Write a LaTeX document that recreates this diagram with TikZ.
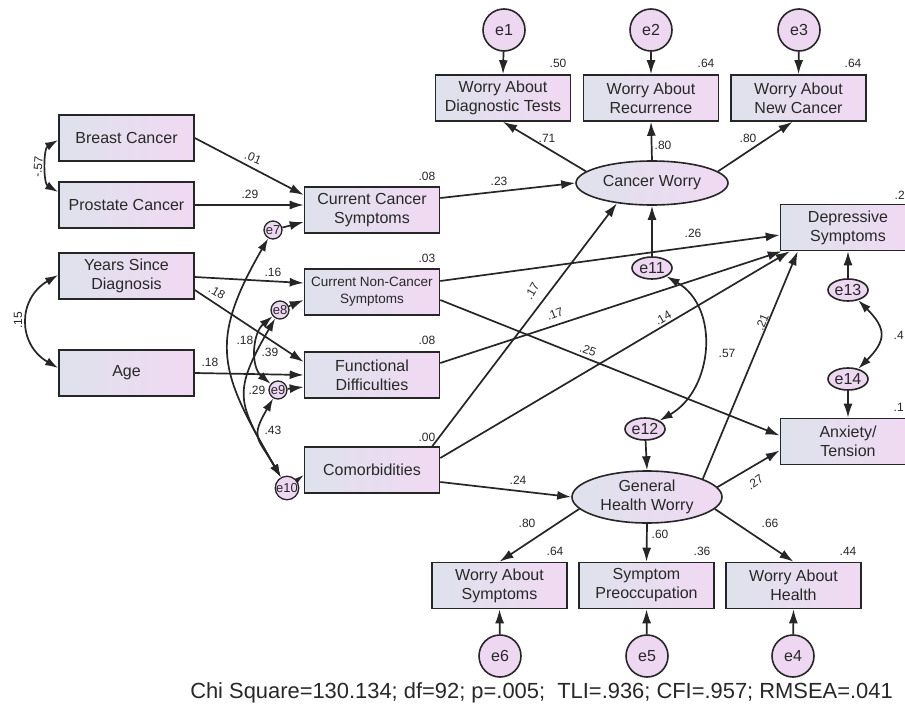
\documentclass[tikz,border=0pt]{standalone}
\usepackage{fontspec}
\setmainfont{Liberation Sans}
\usetikzlibrary{shapes.geometric,arrows.meta}
\definecolor{gL}{RGB}{222,226,236}
\definecolor{gR}{RGB}{241,217,243}
\definecolor{circ}{RGB}{237,215,241}
\definecolor{ln}{RGB}{38,38,38}
\definecolor{txt}{RGB}{40,40,40}
\pgfdeclarelayer{bg}
\pgfdeclarelayer{conn}
\pgfsetlayers{bg,conn,main}
\tikzset{
  obs/.style={draw=ln, line width=1.6pt, left color=gL, right color=gR, minimum width=135pt, minimum height=46pt, inner sep=0pt, align=center, font=\fontsize{16}{19}\selectfont, text=txt},
  lat/.style={ellipse, draw=ln, line width=1.6pt, left color=gL, right color=gR, inner sep=0pt, align=center, font=\fontsize{16}{19}\selectfont, text=txt},
  err/.style={circle, draw=ln, line width=1.6pt, fill=circ, minimum size=42pt, inner sep=0pt, font=\fontsize{16}{19}\selectfont, text=txt},
  errs/.style={circle, draw=ln, line width=1.3pt, fill=circ, minimum size=18pt, inner sep=0pt, font=\fontsize{13}{13}\selectfont, text=txt},
  erre/.style={ellipse, draw=ln, line width=1.6pt, fill=circ, minimum width=40pt, minimum height=22pt, inner sep=0pt, font=\fontsize{16}{16}\selectfont, text=txt},
  coef/.style={font=\fontsize{12}{12}\selectfont, text=txt, inner sep=0.5pt},
  arr/.style={draw=ln, line width=1.7pt, -{Latex[length=14pt,width=9pt]}},
  cov/.style={draw=ln, line width=1.7pt, {Latex[length=13pt,width=8.5pt]}-{Latex[length=13pt,width=8.5pt]}},
}
\begin{document}
\begin{tikzpicture}[x=1pt,y=1pt]
\useasboundingbox (0,0) rectangle (905,-709);
\clip (0,0) rectangle (905,-709);
\begin{pgfonlayer}{bg}
\fill[white] (0,0) rectangle (905,-709);
\end{pgfonlayer}

% observed boxes
\node[obs] (bc) at (126.5,-138) {Breast Cancer};
\node[obs] (pc) at (126.5,-205) {Prostate Cancer};
\node[obs] (ysd) at (126.5,-276) {Years Since\\Diagnosis};
\node[obs] (age) at (126.5,-373) {Age};
\node[obs] (ccs) at (372,-210) {Current Cancer\\Symptoms};
\node[obs, font=\fontsize{13.5}{17}\selectfont] (ncs) at (372,-292) {Current Non-Cancer\\Symptoms};
\node[obs] (fd) at (372,-375) {Functional\\Difficulties};
\node[obs] (com) at (372,-470) {Comorbidities};
\node[obs] (wdt) at (503,-98) {Worry About\\Diagnostic Tests};
\node[obs] (wr) at (651,-98) {Worry About\\Recurrence};
\node[obs] (wnc) at (798.5,-98) {Worry About\\New Cancer};
\node[obs] (dep) at (848,-227.5) {Depressive\\Symptoms};
\node[obs] (anx) at (848,-441.5) {Anxiety/\\Tension};
\node[obs] (was) at (499.5,-585.5) {Worry About\\Symptoms};
\node[obs] (sp) at (646.5,-585.5) {Symptom\\Preoccupation};
\node[obs] (wah) at (793.5,-585.5) {Worry About\\Health};

% latent
\node[lat, minimum width=152pt, minimum height=44pt] (cw) at (652,-183) {Cancer Worry};
\node[lat, minimum width=150pt, minimum height=52pt] (ghw) at (647,-497) {General\\Health Worry};

% errors
\node[err] (e1) at (504,-30) {e1};
\node[err] (e2) at (651,-30) {e2};
\node[err] (e3) at (799,-30) {e3};
\node[err] (e6) at (500,-656) {e6};
\node[err] (e5) at (647,-656) {e5};
\node[err] (e4) at (793,-656) {e4};
\node[errs] (e7) at (273,-230) {e7};
\node[errs] (e8) at (280,-310) {e8};
\node[errs] (e9) at (278,-390) {e9};
\node[errs] (e10) at (287,-488) {e10};
\node[erre] (e11) at (652,-268) {e11};
\node[erre] (e12) at (645,-429) {e12};
\node[erre] (e13) at (848,-290) {e13};
\node[erre] (e14) at (848,-379) {e14};

\begin{pgfonlayer}{conn}
% left inputs
\draw[arr] (bc.east) -- ([yshift=15pt]ccs.west);
\draw[arr] (pc.east) -- ([yshift=5pt]ccs.west);
\draw[arr] (e7) -- ([yshift=-12pt]ccs.west);
\draw[arr] ([yshift=-1pt]ysd.east) -- ([yshift=9pt]ncs.west);
\draw[arr] ([yshift=-14pt]ysd.east) -- ([yshift=13pt]fd.west);
\draw[arr] (age.east) -- (fd.west);
\draw[arr] (e8) -- ([yshift=-8pt]ncs.west);
\draw[arr] (e9) -- ([yshift=-12pt]fd.west);
\draw[arr] (e10) -- ([yshift=-5pt]com.west);
% covariances left
\draw[cov] ([yshift=-2pt]bc.west) to[out=210,in=150,looseness=0.85] ([yshift=13pt]pc.west);
\draw[cov] ([yshift=1pt]ysd.west) to[out=210,in=150,looseness=1.3] ([yshift=5pt]age.west);
\draw[cov] (e7) to[out=240,in=120,looseness=1.3] (e10);
\draw[cov] (e8) to[out=240,in=120,looseness=1.4] (e10);
\draw[cov] (e8) to[out=220,in=140] (e9);
\draw[cov] (e9) to[out=240,in=120,looseness=1.5] (e10);
% middle to right
\draw[arr] ([yshift=12pt]ccs.east) -- (cw.west);
\draw[arr] ([yshift=11pt]ncs.east) -- ([yshift=-7.5pt]dep.west);
\draw[arr] ([yshift=-8pt]ncs.east) -- ([yshift=6pt]anx.west);
\draw[arr] ([yshift=12pt]fd.east) -- ([xshift=2pt]dep.south west);
\draw[arr] ([xshift=-8pt]com.north east) -- (cw.-150);
\draw[arr] ([yshift=12pt]com.east) -- ([xshift=10pt]dep.south west);
\draw[arr] ([yshift=-12pt]com.east) -- (ghw.west);
\draw[arr] (ghw.18) -- ([xshift=18pt]dep.south west);
\draw[arr] (ghw.8) -- ([yshift=-9pt]anx.west);
\draw[arr] (e11) -- (cw.south);
\draw[arr] (e12) -- (ghw.north);
\draw[arr] (e13) -- (dep.south);
\draw[arr] (e14) -- (anx.north);
\draw[cov] (e11) to[out=-30,in=30,looseness=1.1] (e12);
\draw[cov] (e13) to[out=-45,in=45,looseness=1.5] (e14);
% measurement
\draw[arr] (cw.170) -- (wdt.south);
\draw[arr] (cw.north) -- (wr.south);
\draw[arr] (cw.10) -- ([xshift=-6pt]wnc.south);
\draw[arr] (e1) -- (wdt.north);
\draw[arr] (e2) -- (wr.north);
\draw[arr] (e3) -- (wnc.north);
\draw[arr] (ghw.-170) -- (was.north);
\draw[arr] (ghw.south) -- (sp.north);
\draw[arr] (ghw.-10) -- (wah.north);
\draw[arr] (e6) -- (was.south);
\draw[arr] (e5) -- (sp.south);
\draw[arr] (e4) -- (wah.south);
\end{pgfonlayer}

% coefficients
\node[coef] (r1) at (427,-176) {.08};
\node[coef] (r2) at (427,-258) {.03};
\node[coef] (r3) at (427,-340) {.08};
\node[coef] (r4) at (427,-437) {.00};
\node[coef] (r5) at (558,-63) {.50};
\node[coef] (r6) at (706,-63) {.64};
\node[coef] (r7) at (853,-63) {.64};
\node[coef] (r8) at (555,-551) {.64};
\node[coef] (r9) at (702,-551) {.36};
\node[coef] (r10) at (848,-551) {.44};
\node[coef, anchor=west] (r11) at (894,-195) {.2};
\node[coef, anchor=west] (r12) at (893,-407) {.1};
\node[coef, anchor=west] (c44) at (893,-335) {.4};

\node[coef, rotate=-22] (c1) at (253,-158) {.01};
\node[coef] (c2) at (250,-194) {.29};
\node[coef] (c3) at (273,-272) {.16};
\node[coef, rotate=-30] (c4) at (217,-292) {.18};
\node[coef] (c5) at (210,-362) {.18};
\node[coef, rotate=85] (c6) at (38,-167) {-.57};
\node[coef, rotate=90] (c7) at (18,-320) {.15};
\node[coef] (c8) at (245,-340) {.18};
\node[coef] (c9) at (270,-352) {.39};
\node[coef] (c10) at (257,-390) {.29};
\node[coef] (c11) at (273,-430) {.43};
\node[coef] (c12) at (499,-181) {.23};
\node[coef] (c13) at (547,-138) {.71};
\node[coef] (c14) at (663,-145) {.80};
\node[coef] (c15) at (748,-138) {.80};
\node[coef] (c16) at (693,-233) {.26};
\node[coef, rotate=60] (c17) at (532,-291) {.17};
\node[coef, rotate=20] (c18) at (555,-314) {.17};
\node[coef, rotate=30] (c19) at (663,-318) {.14};
\node[coef, rotate=-20] (c20) at (588,-350) {.25};
\node[coef] (c21) at (727,-353) {.57};
\node[coef, rotate=68] (c22) at (762,-322) {.21};
\node[coef] (c23) at (518,-480) {.24};
\node[coef, rotate=35] (c24) at (755,-482) {.27};
\node[coef] (c25) at (527,-523) {.80};
\node[coef] (c26) at (660,-534) {.60};
\node[coef] (c27) at (770,-523) {.66};

\node[font=\fontsize{21.9}{22}\selectfont, text=txt, inner sep=0pt] (fit) at (541.5,-693) {Chi Square=130.134; df=92; p=.005;\ \ TLI=.936; CFI=.957; RMSEA=.041};
\end{tikzpicture}
\end{document}
